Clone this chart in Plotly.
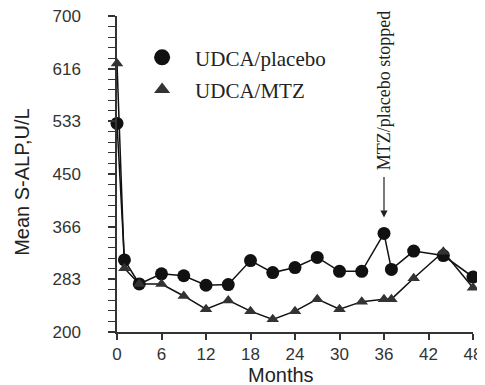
import plotly.graph_objects as go

months_placebo = [0, 1, 3, 6, 9, 12, 15, 18, 21, 24, 27, 30, 33, 36, 37, 40, 44, 48]
alp_placebo = [530, 314, 276, 292, 289, 274, 275, 313, 294, 302, 318, 296, 296, 356, 299, 328, 321, 287]

months_mtz = [0, 1, 3, 6, 9, 12, 15, 18, 21, 24, 27, 30, 33, 36, 37, 40, 44, 48]
alp_mtz = [625, 301, 276, 276, 257, 236, 250, 233, 220, 233, 252, 236, 248, 252, 252, 285, 327, 270]

y_tickvals = [200, 283.333, 366.667, 450, 533.333, 616.667, 700]
y_ticktext = ["200", "283", "366", "450", "533", "616", "700"]
x_tickvals = [0, 6, 12, 18, 24, 30, 36, 42, 48]

fig = go.Figure()
fig.add_trace(go.Scatter(
    x=months_placebo, y=alp_placebo, mode="lines+markers", name="UDCA/placebo",
    line=dict(color="#111111", width=1.5),
    marker=dict(symbol="circle", size=13, color="#111111"),
    cliponaxis=False, showlegend=False,
))
fig.add_trace(go.Scatter(
    x=months_mtz, y=alp_mtz, mode="lines+markers", name="UDCA/MTZ",
    line=dict(color="#111111", width=1.5),
    marker=dict(symbol="triangle-up", size=11, color="#333333"),
    cliponaxis=False, showlegend=False,
))
# legend entries (marker only, as in the reference legend)
fig.add_trace(go.Scatter(
    x=[None], y=[None], mode="markers", name="UDCA/placebo",
    marker=dict(symbol="circle", size=16, color="#111111"), legendgroup="a",
))
fig.add_trace(go.Scatter(
    x=[None], y=[None], mode="markers", name="UDCA/MTZ",
    marker=dict(symbol="triangle-up", size=14, color="#333333"), legendgroup="b",
))

# arrow marking when MTZ/placebo was stopped
fig.add_annotation(x=36, y=381, xref="x", yref="y", text="", showarrow=True,
                   arrowhead=2, arrowsize=1.2, arrowwidth=1.2, arrowcolor="#222222",
                   ax=0, ay=-42)
fig.add_annotation(x=36, y=0.762, xref="x", yref="paper", text="MTZ/placebo stopped",
                   textangle=-90, showarrow=False, xanchor="center", yanchor="middle",
                   font=dict(family="Liberation Serif", size=18, color="#222222"))

# axis titles
fig.add_annotation(x=0.46, y=-0.135, xref="paper", yref="paper", text="Months",
                   showarrow=False, xanchor="center", yanchor="middle", borderpad=0,
                   font=dict(family="Liberation Sans", size=20, color="#222222"))
fig.add_annotation(x=-0.267, y=0.475, xref="paper", yref="paper", text="Mean S-ALP,U/L",
                   textangle=-90, showarrow=False, xanchor="center", yanchor="middle",
                   font=dict(family="Liberation Sans", size=20, color="#222222"))

fig.update_layout(
    width=477, height=377,
    margin=dict(l=109, r=12, t=8, b=53),
    paper_bgcolor="white", plot_bgcolor="white",
    showlegend=True,
    legend=dict(x=0.034, y=0.933, xanchor="left", yanchor="top",
                font=dict(family="Liberation Serif", size=21, color="#222222"),
                bgcolor="rgba(0,0,0,0)", itemwidth=56, tracegroupgap=2),
    xaxis=dict(range=[0, 48], tickvals=x_tickvals, showgrid=False, zeroline=False,
               automargin=False, ticklabeloverflow="allow",
               showline=True, linecolor="#333333", linewidth=1.5,
               ticks="outside", ticklen=6, tickcolor="#333333", tickwidth=1.5,
               tickfont=dict(family="Liberation Sans", size=17, color="#333333")),
    yaxis=dict(range=[200, 700], tickvals=y_tickvals, ticktext=y_ticktext,
               showgrid=False, zeroline=False, automargin=False, ticklabeloverflow="allow",
               showline=True, linecolor="#333333", linewidth=1.5,
               ticks="outside", ticklen=7, tickcolor="#333333", tickwidth=1.5,
               ticklabelstandoff=24,
               minor=dict(dtick=16.6667, tick0=200, ticks="outside", ticklen=7,
                          tickcolor="#333333", tickwidth=1.2, showgrid=False),
               tickfont=dict(family="Liberation Sans", size=17, color="#333333")),
)

fig.write_html("out.html")
